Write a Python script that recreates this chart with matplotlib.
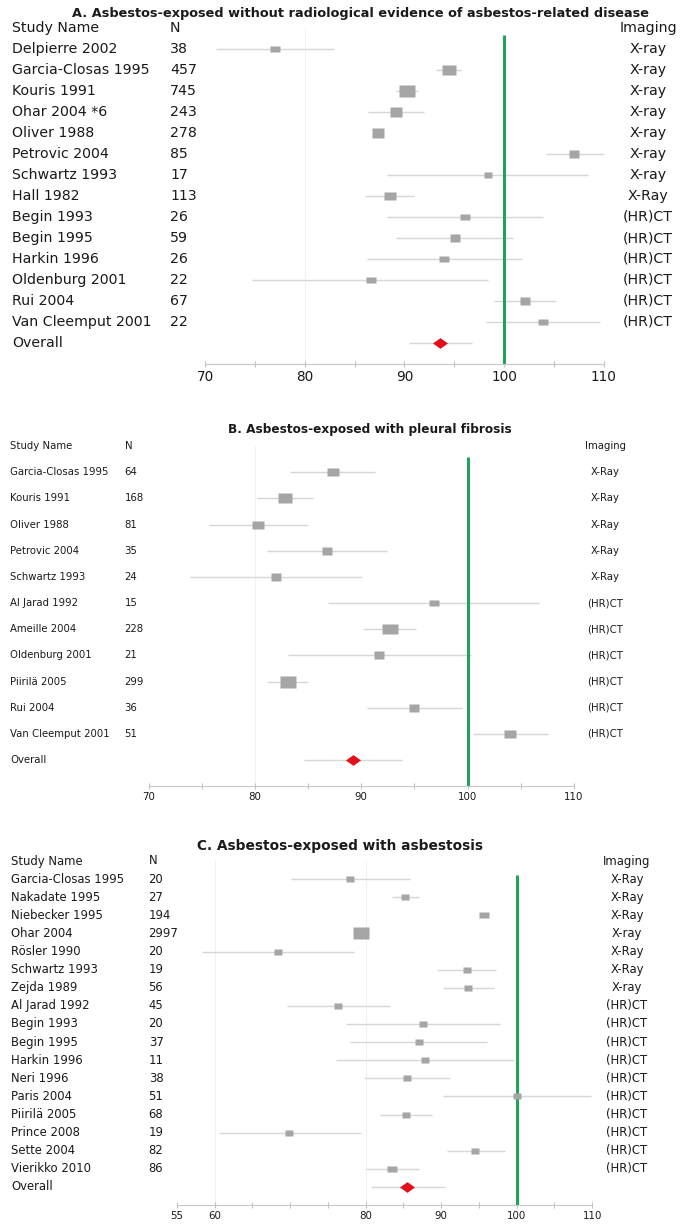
import numpy as np
import matplotlib.pyplot as plt
from matplotlib import transforms

plt.rcParams['font.family'] = ['DejaVu Sans']

#==================
# 1. PANEL A DATA
#==================
a_title = "A. Asbestos-exposed without radiological evidence of asbestos-related disease"
a_study = ["Delpierre 2002", "Garcia-Closas 1995", "Kouris 1991", "Ohar 2004 *6", "Oliver 1988",
           "Petrovic 2004", "Schwartz 1993", "Hall 1982", "Begin 1993", "Begin 1995",
           "Harkin 1996", "Oldenburg 2001", "Rui 2004", "Van Cleemput 2001"]
a_n = [38, 457, 745, 243, 278, 85, 17, 113, 26, 59, 26, 22, 67, 22]
a_est = [77.0, 94.5, 90.3, 89.1, 87.3, 107.0, 98.4, 88.5, 96.1, 95.1, 94.0, 86.6, 102.1, 103.9]
a_lo = [71.1, 93.2, 89.1, 86.3, 86.8, 104.2, 88.2, 86.0, 88.2, 89.1, 86.2, 74.7, 99.0, 98.2]
a_hi = [82.9, 95.7, 91.4, 92.0, 87.8, 110.0, 108.4, 91.0, 103.9, 100.9, 101.8, 98.4, 105.2, 109.6]
a_img = ["X-ray"] * 7 + ["X-Ray"] + ["(HR)CT"] * 6
a_overall = (93.6, 90.5, 96.8)
a_ticks = [70, 75, 80, 85, 90, 95, 100, 105, 110]
a_labels = ["70", "", "80", "", "90", "", "100", "", "110"]

#==================
# 2. PANEL B DATA
#==================
b_title = "B. Asbestos-exposed with pleural fibrosis"
b_study = ["Garcia-Closas 1995", "Kouris 1991", "Oliver 1988", "Petrovic 2004", "Schwartz 1993",
           "Al Jarad 1992", "Ameille 2004", "Oldenburg 2001", "Piirilä 2005", "Rui 2004",
           "Van Cleemput 2001"]
b_n = [64, 168, 81, 35, 24, 15, 228, 21, 299, 36, 51]
b_est = [87.3, 82.8, 80.3, 86.8, 82.0, 96.8, 92.7, 91.7, 83.1, 95.0, 104.0]
b_lo = [83.3, 80.2, 75.7, 81.1, 73.9, 86.9, 90.2, 83.1, 81.1, 90.5, 100.5]
b_hi = [91.3, 85.5, 85.0, 92.4, 90.1, 106.7, 95.1, 100.3, 85.0, 99.5, 107.6]
b_img = ["X-Ray"] * 5 + ["(HR)CT"] * 6
b_overall = (89.2, 84.6, 93.8)
b_ticks = [70, 75, 80, 85, 90, 95, 100, 105, 110]
b_labels = ["70", "", "80", "", "90", "", "100", "", "110"]

#==================
# 3. PANEL C DATA
#==================
c_title = "C. Asbestos-exposed with asbestosis"
c_study = ["Garcia-Closas 1995", "Nakadate 1995", "Niebecker 1995", "Ohar 2004", "Rösler 1990",
           "Schwartz 1993", "Zejda 1989", "Al Jarad 1992", "Begin 1993", "Begin 1995",
           "Harkin 1996", "Neri 1996", "Paris 2004", "Piirilä 2005", "Prince 2008",
           "Sette 2004", "Vierikko 2010"]
c_n = [20, 27, 194, 2997, 20, 19, 56, 45, 20, 37, 11, 38, 51, 68, 19, 82, 86]
c_est = [77.9, 85.2, 95.7, 79.4, 68.4, 93.4, 93.6, 76.3, 87.6, 87.0, 87.9, 85.5, 100.0, 85.3,
         69.9, 94.5, 83.5]
c_lo = [70.1, 83.5, 95.2, 78.6, 58.3, 89.5, 90.2, 69.6, 77.4, 77.9, 76.1, 79.8, 90.2, 81.9,
        60.5, 90.7, 80.0]
c_hi = [85.8, 87.1, 96.2, 80.2, 78.5, 97.3, 97.0, 83.2, 97.8, 96.0, 99.7, 91.1, 109.8, 88.8,
        79.4, 98.5, 87.1]
c_img = ["X-Ray", "X-Ray", "X-Ray", "X-ray", "X-Ray", "X-Ray", "X-ray"] + ["(HR)CT"] * 10
c_overall = (85.5, 80.7, 90.5)
c_ticks = [55, 60, 65, 70, 75, 80, 85, 90, 95, 100, 105, 110]
c_labels = ["55", "60", "", "", "", "80", "", "90", "", "100", "", "110"]

#=========================
# 4. LAYOUT (pixel based)
#=========================
W, H = 685, 1229
GREEN = '#1fa35c'
SQ = '#a5a5a5'
CI = '#d6d6d6'
TXT = '#1a1a1a'

# rectangular markers: the source image is stretched sideways
box = [(-1.4, -1), (1.4, -1), (1.4, 1), (-1.4, 1), (-1.4, -1)]
diamond = [(-1.4, 0), (0, 1), (1.4, 0), (0, -1), (-1.4, 0)]

fig = plt.figure(figsize=(W / 100, H / 100), dpi=100)


def forest(title, study, n, est, lo, hi, img, overall, ticks, labels, cfg):
    top, bot = cfg['panel']
    y0, step = cfg['header'], cfg['step']
    ax = fig.add_axes([0, 1 - bot / H, 1, (bot - top) / H])
    # x: pixel anchors of the axis ends
    (v0, p0), (v1, p1) = cfg['xanchor']
    k = (p1 - p0) / (v1 - v0)
    ax.set_xlim(v0 - p0 / k, v0 + (W - p0) / k)
    ax.set_ylim((bot - y0) / step, (top - y0) / step)
    tr = transforms.blended_transform_factory(ax.transAxes, ax.transData)
    row = lambda px: (px - y0) / step

    m = len(study)
    rows = np.arange(1, m + 1)
    orow = m + 1
    arow = m + 2
    fs = cfg['fs']

    # faint guide lines
    for g in cfg['grid']:
        ax.vlines(g, 0, arow, color='#f1f1f1', lw=0.8, zorder=0)

    ax.hlines(rows, lo, hi, color=CI, lw=1.0, zorder=1)
    nmax = max(n)
    for r, e, nn in zip(rows, est, n):
        w = 7.5 + 9 * np.sqrt(nn / nmax)
        ax.plot(e, r, marker=box, ms=w * 0.72, color=SQ, mec='none', zorder=3)
    ax.vlines(100, row(cfg['gtop']), arow, color=GREEN, lw=2.2, zorder=2)
    ax.hlines(orow, overall[1], overall[2], color=CI, lw=1.0, zorder=1)
    ax.plot(overall[0], orow, marker=diamond, ms=15 * 0.72, color='#e3101a', mec='none', zorder=4)

    # text columns
    xs, xn, xi = [v / W for v in cfg['cols']]
    ax.text(xs, 0, "Study Name", transform=tr, fontsize=fs, va='center', color=TXT)
    ax.text(xn, 0, "N", transform=tr, fontsize=fs, va='center', color=TXT)
    ax.text(xi, 0, "Imaging", transform=tr, fontsize=fs, va='center', ha='center', color=TXT)
    for r, s, nn, im in zip(rows, study, n, img):
        ax.text(xs, r, s, transform=tr, fontsize=fs, va='center', color=TXT)
        ax.text(xn, r, str(nn), transform=tr, fontsize=fs, va='center', color=TXT)
        ax.text(xi, r, im, transform=tr, fontsize=fs, va='center', ha='center', color=TXT)
    ax.text(xs, orow, "Overall", transform=tr, fontsize=fs, va='center', color=TXT)
    ax.text(cfg['tx'] / W, row(cfg['ty']), title, transform=tr, fontsize=cfg['tfs'],
            fontweight='bold', ha='center', va='center', color=TXT)

    # axis
    for sp in ['top', 'left', 'right']:
        ax.spines[sp].set_visible(False)
    ax.spines['bottom'].set_position(('data', arow))
    ax.spines['bottom'].set_bounds(ticks[0], ticks[-1])
    ax.spines['bottom'].set_color('#c8c8c8')
    ax.set_xticks(ticks)
    ax.set_xticklabels(labels)
    ax.tick_params(axis='x', direction='inout', length=4, width=0.8, color='#c0c0c0',
                   labelsize=cfg['lfs'], labelcolor=TXT, pad=2)
    ax.set_yticks([])
    ax.patch.set_alpha(0)
    return ax


forest(a_title, a_study, a_n, a_est, a_lo, a_hi, a_img, a_overall, a_ticks, a_labels,
       dict(panel=(0, 400), header=28, step=21.0, xanchor=((70, 205), (110, 604)),
            cols=(12.5, 170, 648), fs=10.2, lfs=9.8, tx=361, ty=13, tfs=9.3,
            gtop=35, grid=[80]))
forest(b_title, b_study, b_n, b_est, b_lo, b_hi, b_img, b_overall, b_ticks, b_labels,
       dict(panel=(400, 820), header=446, step=26.17, xanchor=((70, 148.6), (110, 574)),
            cols=(10, 124.6, 605), fs=7.3, lfs=7.4, tx=370, ty=429, tfs=8.7,
            gtop=457, grid=[80]))
forest(c_title, c_study, c_n, c_est, c_lo, c_hi, c_img, c_overall, c_ticks, c_labels,
       dict(panel=(820, 1229), header=861, step=18.11, xanchor=((55, 177), (110, 592.2)),
            cols=(11, 148.6, 627), fs=8.4, lfs=7.4, tx=340, ty=846, tfs=9.9,
            gtop=875, grid=[60, 80]))

fig.savefig("out.png", dpi=100)
